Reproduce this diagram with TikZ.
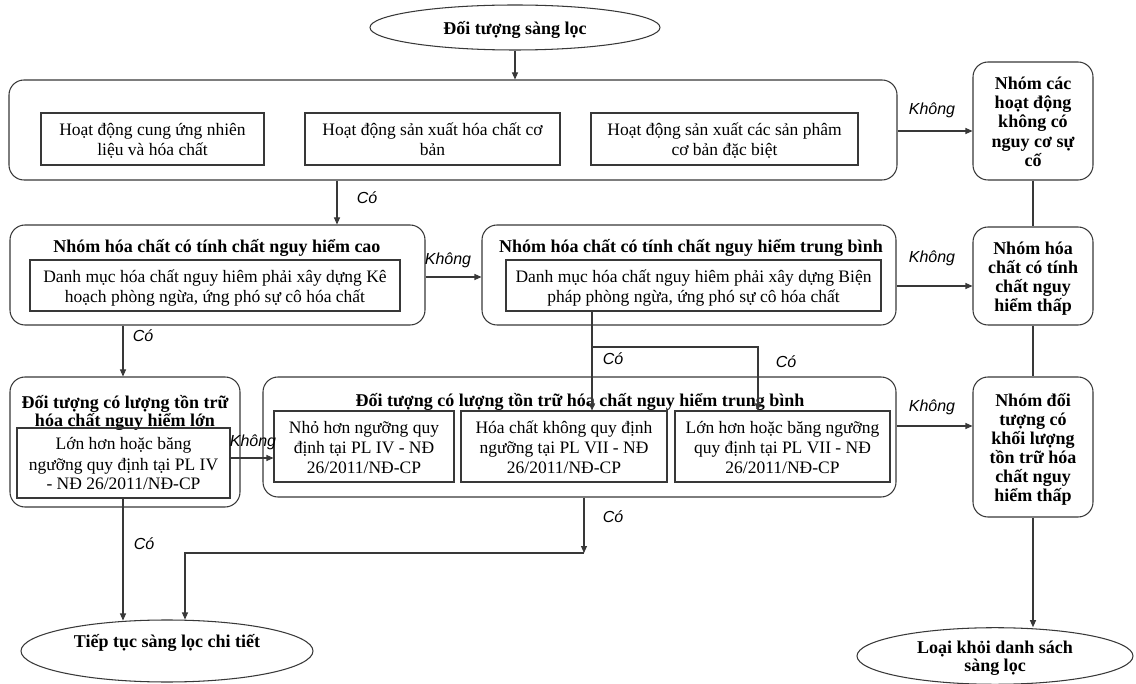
\documentclass[tikz,border=0pt]{standalone}
\usepackage{fontspec}
\setmainfont{Liberation Serif}
\newfontfamily\lblfont{Liberation Sans}
\usetikzlibrary{arrows.meta,shapes.geometric,fit}
\begin{document}
\begin{tikzpicture}[x=1pt,y=-1pt,
  lc/.style={draw=black!78, line width=1.05pt},
  frame/.style={lc, rounded corners=15pt, inner sep=0pt},
  rframe/.style={lc, rounded corners=15pt, inner sep=0pt, align=center, text depth=5pt,
     minimum width=120pt, font=\fontsize{18}{19.2}\selectfont\bfseries},
  sbox/.style={lc, inner sep=0pt, align=center, text depth=5pt, font=\fontsize{17.5}{20}\selectfont},
  twol/.style={text height=39pt},
  threel/.style={text height=59pt},
  fourb/.style={text height=76.6pt},
  fiveb/.style={text height=95.8pt},
  sixb/.style={text height=115pt},
  oval/.style={lc, ellipse, inner sep=0pt, align=center, font=\fontsize{18}{18}\selectfont\bfseries},
  ttl/.style={inner sep=0pt, align=center, text height=13pt, text depth=5pt, font=\fontsize{18}{18}\selectfont\bfseries},
  lbl/.style={inner sep=0pt, text height=12.4pt, text depth=4pt, font=\fontsize{16}{16}\lblfont\itshape},
  arr/.style={lc, -{Triangle[length=7pt,width=6pt]}},
  ln/.style={lc}]
\useasboundingbox (0,0) rectangle (1136,684);
\fill[white] (0,0) rectangle (1136,684);

% top ellipse
\node[oval, minimum width=290pt, minimum height=45pt, text height=13pt, text depth=5pt] (e1) at (515,27.5) {\raisebox{-3pt}{Đối tượng sàng lọc}};

% big box with three activities
\node[frame, fit={(9,80)(897,180)}] (big) {};
\node[sbox, twol, minimum width=223pt, minimum height=52pt] (A) at (152.5,139) {Hoạt động cung ứng nhiên\\liệu và hóa chất};
\node[sbox, twol, minimum width=255pt, minimum height=52pt] (B) at (432.5,139) {Hoạt động sản xuất hóa chất cơ\\bản};
\node[sbox, twol, minimum width=267pt, minimum height=52pt] (C) at (724.5,139) {Hoạt động sản xuất các sản phâm\\cơ bản đặc biệt};

% right column
\node[rframe, fiveb, minimum height=118pt] (R1) at (1033,121) {Nhóm các\\hoạt động\\không có\\nguy cơ sự\\cố};
\node[rframe, fourb, minimum height=98pt] (R2) at (1033,276) {Nhóm hóa\\chất có tính\\chất nguy\\hiểm thấp};
\node[rframe, sixb, minimum height=140pt] (R3) at (1033,447) {Nhóm đối\\tượng có\\khối lượng\\tồn trữ hóa\\chất nguy\\hiểm thấp};

% high hazard group
\node[frame, fit={(10,225)(425,325)}] (H2) {};
\node[ttl] (t2) at (217,249) {Nhóm hóa chất có tính chất nguy hiểm cao};
\node[sbox, twol, minimum width=370pt, minimum height=51pt] (H2in) at (215,285.5) {Danh mục hóa chất nguy hiêm phải xây dựng Kê\\hoạch phòng ngừa, ứng phó sự cô hóa chất};

% medium hazard group
\node[frame, fit={(482,225)(896,325)}] (H3) {};
\node[ttl] (t3) at (691,249) {Nhóm hóa chất có tính chất nguy hiểm trung bình};
\node[sbox, twol, minimum width=375pt, minimum height=51pt] (H3in) at (693.5,285.5) {Danh mục hóa chất nguy hiêm phải xây dựng Biện\\pháp phòng ngừa, ứng phó sự cô hóa chất};

% large storage
\node[frame, fit={(10,377)(240,507)}] (H4) {};
\node[ttl, text height=31pt] (t4) at (125,414) {Đối tượng có lượng tồn trữ\\hóa chất nguy hiểm lớn};
\node[sbox, threel, minimum width=213pt, minimum height=70pt] (H4in) at (123.5,463) {Lớn hơn hoặc băng\\ngưỡng quy định tại PL IV\\- NĐ 26/2011/NĐ-CP};

% medium storage
\node[frame, fit={(263,377)(896,497)}] (H5) {};
\node[ttl] (t5) at (580,403) {Đối tượng có lượng tồn trữ hóa chất nguy hiểm trung bình};
\node[sbox, threel, minimum width=180pt, minimum height=71pt] (I1) at (364,446.5) {Nhỏ hơn ngưỡng quy\\định tại PL IV - NĐ\\26/2011/NĐ-CP};
\node[sbox, threel, minimum width=206pt, minimum height=71pt] (I2) at (564,446.5) {Hóa chất không quy định\\ngưỡng tại PL VII - NĐ\\26/2011/NĐ-CP};
\node[sbox, threel, minimum width=215pt, minimum height=71pt] (I3) at (782.5,446.5) {Lớn hơn hoặc băng ngưỡng\\quy định tại PL VII - NĐ\\26/2011/NĐ-CP};

% end ellipses
\node[oval, minimum width=292pt, minimum height=62pt, text height=5pt, text depth=19pt] (e2) at (167,651) {\raisebox{-3pt}{Tiếp tục sàng lọc chi tiết}};
\node[oval, minimum width=276pt, minimum height=56pt, text height=35pt, text depth=5pt] (e3) at (995,656) {Loại khỏi danh sách\\sàng lọc};

% helper coordinates
\coordinate (yK1) at (0,131);
\coordinate (yK2) at (0,277);
\coordinate (yK3) at (0,286);
\coordinate (yK4) at (0,458);
\coordinate (yK5) at (0,426);
\coordinate (xC1) at (337,0);
\coordinate (xC2) at (123,0);
\coordinate (xC3) at (592,0);
\coordinate (xC4) at (758,0);
\coordinate (xC5) at (584,0);
\coordinate (xC6) at (185,0);
\coordinate (yJ1) at (0,347);
\coordinate (yJ2) at (0,553);

% connectors
\draw[arr] (e1.south) -- (e1.south |- big.north);
\draw[arr] (big.east |- yK1) -- (R1.west |- yK1);
\draw[arr] (big.south -| xC1) -- (H2.north -| xC1);
\draw[arr] (H2.east |- yK2) -- (H3.west |- yK2);
\draw[arr] (H3.east |- yK3) -- (R2.west |- yK3);
\draw[ln] (R1.south) -- (R2.north);
\draw[ln] (R2.south) -- (R3.north);
\draw[arr] (R3.south) -- (R3.south |- e3.north);
\draw[arr] (H2.south -| xC2) -- (H4.north -| xC2);
\draw[arr] (H3in.south -| xC3) -- (I2.north -| xC3);
\draw[arr] (xC3 |- yJ1) -| (I3.north -| xC4);
\draw[arr] (H4in.east |- yK4) -- (I1.west |- yK4);
\draw[arr] (H5.east |- yK5) -- (R3.west |- yK5);
\draw[arr] (H4in.south -| xC2) -- ([yshift=-1pt]e2.north -| xC2);
\draw[arr] (H5.south -| xC5) -- (xC5 |- yJ2);
\draw[arr] (xC5 |- yJ2) -| (e2.north -| xC6);

% labels
\node[lbl] (k1) at (932,110) {Không};
\node[lbl] (k2) at (448,260) {Không};
\node[lbl] (k3) at (932,258) {Không};
\node[lbl] (k4) at (253,442) {Không};
\node[lbl] (k5) at (932,407) {Không};
\node[lbl] (c1) at (367,199) {Có};
\node[lbl] (c2) at (143,337) {Có};
\node[lbl] (c3) at (613,360) {Có};
\node[lbl] (c4) at (786,363) {Có};
\node[lbl] (c5) at (144,545) {Có};
\node[lbl] (c6) at (613,518) {Có};
\end{tikzpicture}
\end{document}
